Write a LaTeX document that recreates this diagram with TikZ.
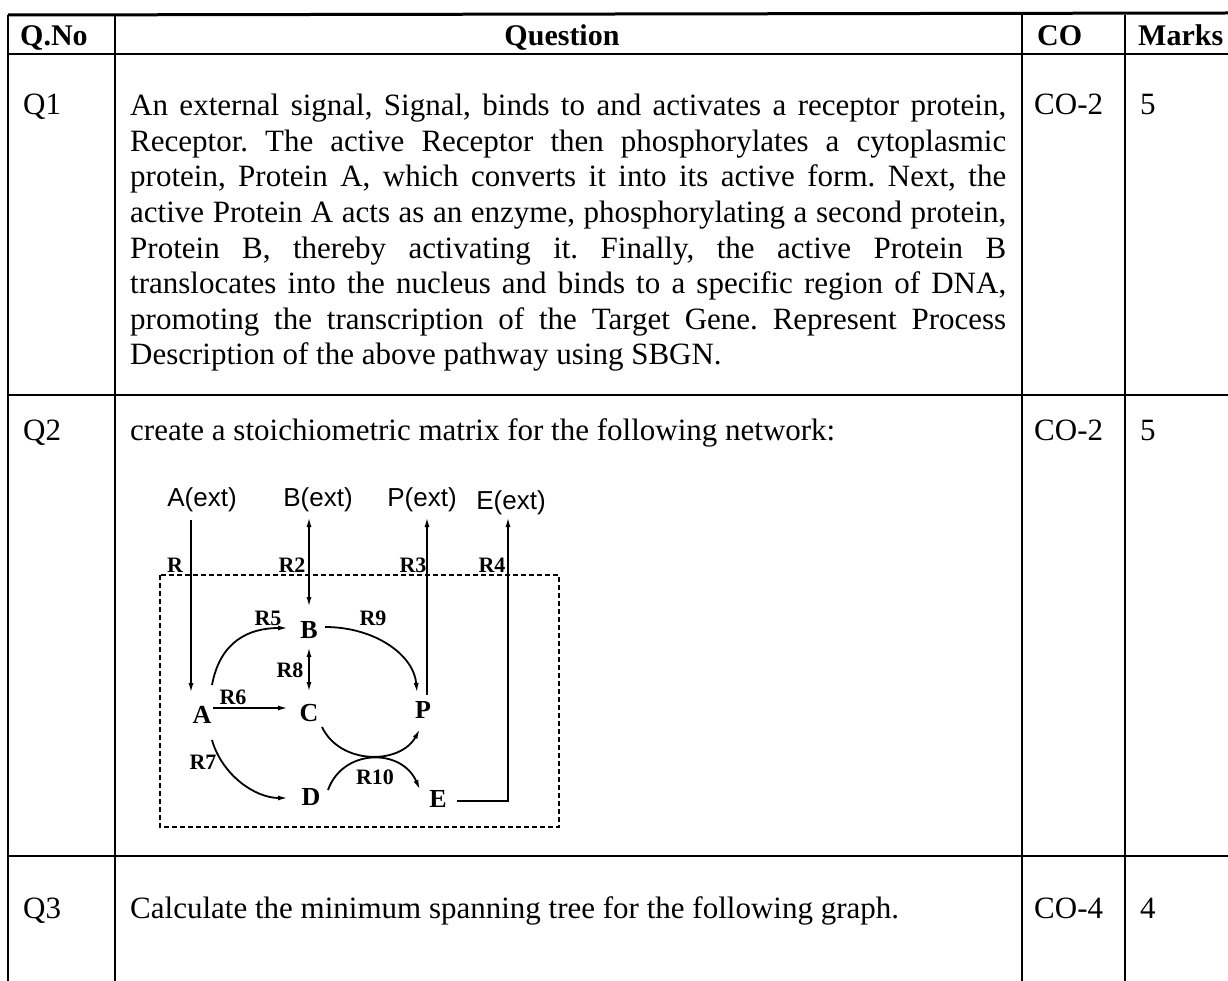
\documentclass[tikz,border=0pt]{standalone}
\usepackage{fontspec}
\setmainfont{Liberation Serif}
\newfontfamily\labelsans{Liberation Sans}
\usetikzlibrary{arrows.meta,calc}
\hbadness=10000
\frenchspacing
\tikzset{
  tline/.style={line width=1.8pt, black},
  conn/.style={line width=1.8pt, black},
  arr/.style={conn, -{Latex[length=10pt,width=5pt]}},
  darr/.style={conn, {Latex[length=10pt,width=5pt]}-{Latex[length=10pt,width=5pt]}},
  body/.style={inner sep=0pt, font=\fontsize{31}{35.6}\selectfont},
  head/.style={inner sep=0pt, font=\fontsize{30}{34}\selectfont\bfseries},
  species/.style={inner sep=0pt, font=\fontsize{26}{30}\selectfont\bfseries},
  rlabel/.style={inner sep=0pt, font=\fontsize{22}{26}\selectfont\bfseries},
  extlabel/.style={inner sep=0pt, font=\fontsize{26}{30}\selectfont\labelsans},
  compbox/.style={line width=1.4pt, dash pattern=on 5pt off 3pt},
}
\begin{document}
\begin{tikzpicture}[x=1pt,y=-1pt]
\useasboundingbox (0,0) rectangle (1228,981);
\fill[white] (0,0) rectangle (1228,981);

% ---------- table rules ----------
\draw[line width=3pt] (8,15) -- (1228,13);
\draw[tline] (8,54) -- (1228,54);
\draw[tline] (8,395) -- (1228,395);
\draw[tline] (8,856) -- (1228,856);
\foreach \x in {8,115,1022,1125} \draw[tline] (\x,15) -- (\x,981);

% ---------- header ----------
\node[head, anchor=base west] (hq) at (20,46) {Q.No};
\node[head, anchor=base] (hquest) at (562,46) {Question};
\node[head, anchor=base west] (hco) at (1037,46) {CO};
\node[head, anchor=base west] (hmarks) at (1138,46) {Marks};

% ---------- Q1 ----------
\node[body, anchor=base west] (q1) at (23,115) {Q1};
\node[body, anchor=north west] (q1text) at (130,94) {\vbox{\hsize=876pt \baselineskip=35.6pt
\hbox to\hsize{An external signal, Signal, binds to and activates a receptor protein,}
\hbox to\hsize{Receptor. The active Receptor then phosphorylates a cytoplasmic}
\hbox to\hsize{protein, Protein A, which converts it into its active form. Next, the}
\hbox to\hsize{active Protein A acts as an enzyme, phosphorylating a second protein,}
\hbox to\hsize{Protein B, thereby activating it. Finally, the active Protein B}
\hbox to\hsize{translocates into the nucleus and binds to a specific region of DNA,}
\hbox to\hsize{promoting the transcription of the Target Gene. Represent Process}
\hbox{Description of the above pathway using SBGN.}}};
\node[body, anchor=base west] (co1) at (1034,115) {CO-2};
\node[body, anchor=base west] (m1) at (1140,115) {5};

% ---------- Q2 ----------
\node[body, anchor=base west] (q2) at (23,440) {Q2};
\node[body, anchor=base west] (q2text) at (130,440) {create a stoichiometric matrix for the following network:};
\node[body, anchor=base west] (co2) at (1034,440) {CO-2};
\node[body, anchor=base west] (m2) at (1140,440) {5};

% ---------- Q3 ----------
\node[body, anchor=base west] (q3) at (23,918) {Q3};
\node[body, anchor=base west] (q3text) at (130,918) {Calculate the minimum spanning tree for the following graph.};
\node[body, anchor=base west] (co3) at (1034,918) {CO-4};
\node[body, anchor=base west] (m3) at (1140,918) {4};

% ---------- network diagram ----------
\draw[compbox] (160,575) rectangle (559,827);

\node[extlabel] (Aext) at (202,500) {A(ext)};
\node[extlabel] (Bext) at (318,500) {B(ext)};
\node[extlabel] (Pext) at (422,500) {P(ext)};
\node[extlabel] (Eext) at (511,503) {E(ext)};

\node[species] (A) at (202,715) {A};
\node[species] (B) at (309,630) {B};
\node[species] (C) at (309,713) {C};
\node[species] (P) at (423,710) {P};
\node[species] (D) at (311,797) {D};
\node[species] (E) at (438,799) {E};

% exchange reactions
\draw[arr] ($(Aext)+(-11,20)$) -- ($(A)+(-11,-22)$);
\draw[darr] ($(Bext)+(-9,17)$) -- ($(B)+(0,-23)$);
\draw[arr] ($(P)+(4,-15)$) -- ($(Pext)+(5,17)$);
\draw[arr] ($(E)+(19,2)$) -| ($(Eext)+(-3,14)$);

% internal reactions
\draw[arr] ($(A)+(10,-30)$) .. controls (220,642) and (248,628) .. ($(B)+(-21,-2)$);
\draw[arr] ($(B)+(16,-3)$) .. controls (375,627) and (414,655) .. ($(P)+(-6,-17)$);
\draw[darr] ($(B)+(0,17)$) -- ($(C)+(0,-21)$);
\draw[arr] ($(A)+(11,-7)$) -- ($(C)+(-21,-5)$);
\draw[arr] ($(A)+(10,25)$) .. controls (222,775) and (255,798) .. ($(D)+(-23,1)$);
\draw[arr] ($(C)+(13,14)$) .. controls (340,765) and (400,765) .. ($(P)+(-3,19)$);
\draw[arr] ($(D)+(17,-7)$) .. controls (343,748) and (402,748) .. ($(E)+(-18,-9)$);

% reaction labels
\node[rlabel] (lR1) at (175,565) {R};
\node[rlabel] (lR2) at (292,565) {R2};
\node[rlabel] (lR3) at (413,565) {R3};
\node[rlabel] (lR4) at (492,565) {R4};
\node[rlabel] (lR5) at (268,618) {R5};
\node[rlabel] (lR9) at (373,618) {R9};
\node[rlabel] (lR8) at (290,670) {R8};
\node[rlabel] (lR6) at (233,697) {R6};
\node[rlabel] (lR7) at (203,762) {R7};
\node[rlabel] (lR10) at (375,777) {R10};
\end{tikzpicture}
\end{document}
